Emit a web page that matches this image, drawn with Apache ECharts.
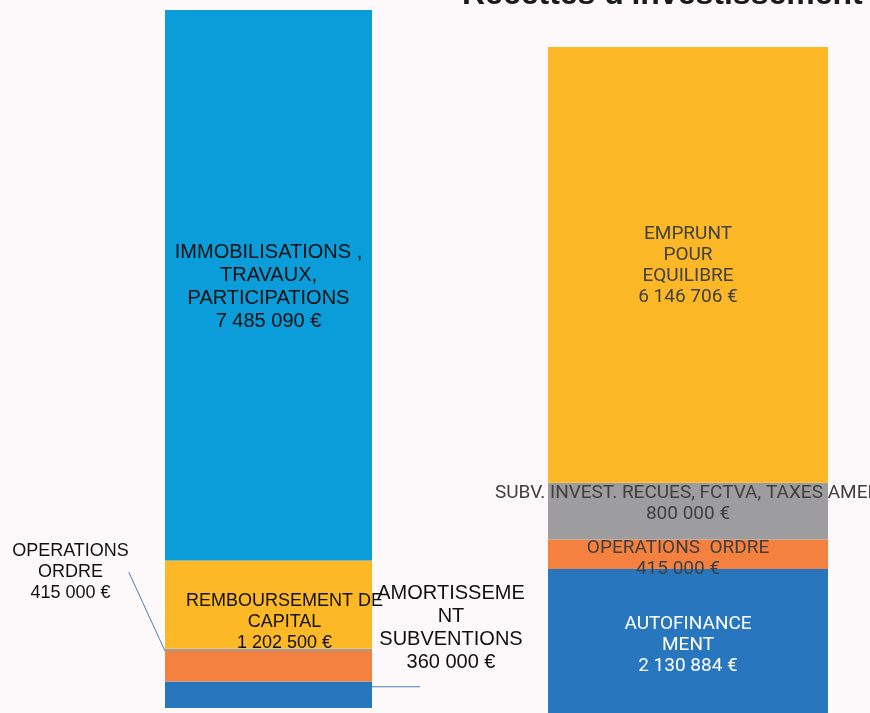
<!DOCTYPE html>
<html>
<head>
<meta charset="utf-8">
<script src="https://cdn.jsdelivr.net/npm/echarts@6/dist/echarts.min.js"></script>
<style>
  html, body { margin: 0; padding: 0; background: #fdf8f9; overflow: hidden; }
</style>
</head>
<body>
<div id="main" style="width: 870px;height:722px;"></div>
<script>
// dépenses (barre de gauche), du bas vers le haut
const leftCats = ['Dépenses'];
const leftNames = ['AMORTISSEMENT SUBVENTIONS', 'OPERATIONS ORDRE', 'AUTRES', 'REMBOURSEMENT DE CAPITAL', 'IMMOBILISATIONS, TRAVAUX, PARTICIPATIONS'];
const leftLabels = ['AMORTISSEME\nNT\nSUBVENTIONS', 'OPERATIONS\nORDRE', '', 'REMBOURSEMENT DE\nCAPITAL', 'IMMOBILISATIONS ,\nTRAVAUX,\nPARTICIPATIONS'];
const leftValues = [360000, 415000, 30000, 1202500, 7485090];

// recettes (barre de droite), du bas vers le haut
const rightCats = ['Recettes'];
const rightNames = ['AUTOFINANCEMENT', 'OPERATIONS ORDRE', 'SUBV. INVEST. RECUES', 'EMPRUNT POUR EQUILIBRE'];
const rightLabels = ['AUTOFINANCE\nMENT', 'OPERATIONS  ORDRE', 'SUBV. INVEST. RECUES, FCTVA, TAXES AMEN', 'EMPRUNT\nPOUR\nEQUILIBRE'];
const rightValues = [2130884, 415000, 800000, 6146706];

const leftColors = ['#2876bd', '#f58140', '#9d9d9f', '#fdb827', '#0a9dd9'];
const rightColors = ['#2876bd', '#f58140', '#9d9d9f', '#fdb827'];

function euro(v) {
  return String(v).replace(/\B(?=(\d{3})+(?!\d))/g, ' ') + ' €';
}

const sum = a => a.reduce((s, v) => s + v, 0);

var myChart = echarts.init(document.getElementById('main'));

let series = [];
leftValues.forEach(function (v, i) {
  let s = {
    name: leftNames[i],
    type: 'bar',
    stack: 'left',
    xAxisIndex: 0,
    yAxisIndex: 0,
    barWidth: '100%',
    itemStyle: { color: leftColors[i] },
    data: [v],
    label: {
      show: leftLabels[i] !== '',
      position: 'inside',
      formatter: leftLabels[i] + '\n' + euro(v),
      color: '#111',
      fontFamily: 'Liberation Sans',
      fontSize: 20,
      lineHeight: 23,
      offset: [0, 2]
    }
  };
  if (i === 0) {
    // texte au-dessus d'un petit trait de rappel horizontal
    s.label.position = 'right';
    s.label.distance = 0;
    s.label.width = 158;
    s.label.offset = [0, -54];
    s.label.formatter = leftLabels[i].split('\n').concat(euro(v))
      .map(t => '{t|' + t + '}').join('\n') + '\n{l|}';
    s.label.rich = {
      t: { fontFamily: 'Liberation Sans', fontSize: 20, lineHeight: 23, color: '#111', align: 'center' },
      l: { width: 48, height: 1, lineHeight: 26, backgroundColor: '#4a7ebb', align: 'left' }
    };
  }
  if (i === 1) {
    s.label.fontSize = 18;
    s.label.lineHeight = 21;
    s.label.offset = [0, 0];
    s.labelLayout = { dx: -198, dy: -94 };
    s.labelLine = { show: true, lineStyle: { color: '#4a7ebb', width: 1 } };
  }
  if (i === 3) {
    s.label.fontSize = 18;
    s.label.offset = [16, 17];
    s.label.lineHeight = 21;
  }
  series.push(s);
});

rightValues.forEach(function (v, i) {
  series.push({
    name: rightNames[i],
    type: 'bar',
    stack: 'right',
    xAxisIndex: 1,
    yAxisIndex: 1,
    barWidth: '100%',
    itemStyle: { color: rightColors[i] },
    data: [v],
    label: {
      show: true,
      position: 'inside',
      formatter: rightLabels[i] + '\n' + euro(v),
      color: i === 0 ? '#ffffff' : '#404040',
      fontFamily: 'Roboto',
      fontSize: 19,
      lineHeight: 21,
      offset: i === 1 ? [-10, 5] : (i === 2 ? [0, -7] : [0, 1])
    }
  });
});

let option = {
  backgroundColor: '#fdf8f9',
  animation: false,
  title: {
    text: "Recettes d'investissement",
    left: 457,
    top: -26,
    textStyle: { fontFamily: 'Liberation Sans', fontSize: 32, fontWeight: 'bold', color: '#1a1a1a' }
  },
  grid: [
    { left: 165, width: 207, top: 10, height: 698 },
    { left: 548, width: 280, top: 47, height: 673 }
  ],
  xAxis: [
    { type: 'category', gridIndex: 0, data: leftCats, show: false },
    { type: 'category', gridIndex: 1, data: rightCats, show: false }
  ],
  yAxis: [
    { type: 'value', gridIndex: 0, min: 0, max: sum(leftValues), show: false },
    { type: 'value', gridIndex: 1, min: 0, max: sum(rightValues), show: false }
  ],
  series: series
};

myChart.setOption(option);
</script>
</body>
</html>
